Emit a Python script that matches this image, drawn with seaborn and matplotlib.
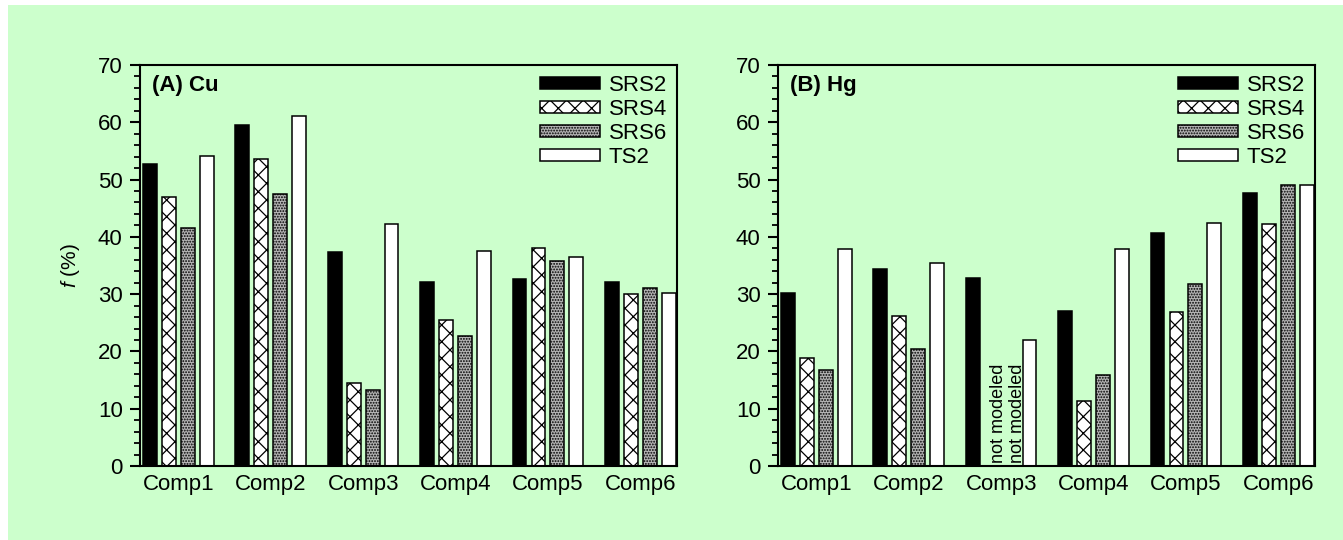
import numpy as np
import pandas as pd
import matplotlib
matplotlib.use("Agg")
import matplotlib.pyplot as plt
from matplotlib.patches import Patch, Rectangle
from matplotlib.ticker import MultipleLocator
import seaborn as sns

# ---- data ----
components = ["Comp1", "Comp2", "Comp3", "Comp4", "Comp5", "Comp6"]
series = ["SRS2", "SRS4", "SRS6", "TS2"]

cu_srs2 = [52.7, 59.5, 37.4, 32.2, 32.6, 32.2]
cu_srs4 = [46.9, 53.6, 14.5, 25.4, 38.0, 30.0]
cu_srs6 = [41.6, 47.4, 13.3, 22.7, 35.8, 31.1]
cu_ts2 = [54.2, 61.1, 42.3, 37.6, 36.4, 30.2]

hg_srs2 = [30.2, 34.4, 32.8, 27.0, 40.6, 47.7]
hg_srs4 = [18.8, 26.2, np.nan, 11.35, 26.9, 42.2]
hg_srs6 = [16.8, 20.4, np.nan, 15.9, 31.8, 49.0]
hg_ts2 = [37.9, 35.4, 22.0, 37.9, 42.5, 49.0]

panel_titles = ["(A) Cu", "(B) Hg"]
not_modeled_label = "not modeled"

def long_df(vals):
    rows = []
    for s, v in zip(series, vals):
        for c, y in zip(components, v):
            rows.append({"comp": c, "series": s, "f": y})
    return pd.DataFrame(rows)

df_cu = long_df([cu_srs2, cu_srs4, cu_srs6, cu_ts2])
df_hg = long_df([hg_srs2, hg_srs4, hg_srs6, hg_ts2])

# ---- style ----
sns.set_style("ticks")
plt.rcParams["font.family"] = ["Liberation Sans", "DejaVu Sans"]
plt.rcParams["mathtext.fontset"] = "custom"
plt.rcParams["mathtext.it"] = "Liberation Sans:italic"
plt.rcParams["mathtext.rm"] = "Liberation Sans"
plt.rcParams["hatch.linewidth"] = 0.9
for key in ["text.color", "axes.labelcolor", "xtick.color", "ytick.color",
            "xtick.labelcolor", "ytick.labelcolor", "axes.edgecolor"]:
    plt.rcParams[key] = "black"

BG = "#CCFFCC"
styles = {
    "SRS2": dict(facecolor="black", edgecolor="black", hatch=None),
    "SRS4": dict(facecolor="white", edgecolor="black", hatch="xx"),
    "SRS6": dict(facecolor="#b4b4b4", edgecolor="black", hatch="......"),
    "TS2": dict(facecolor="white", edgecolor="black", hatch=None),
}

fig = plt.figure(figsize=(13.43, 5.40), dpi=100, facecolor=BG)
ax_pos = [[140 / 1343, 74 / 540, 537 / 1343, 401 / 540],
          [778 / 1343, 74 / 540, 537 / 1343, 401 / 540]]

for i, (df, title) in enumerate(zip([df_cu, df_hg], panel_titles)):
    ax = fig.add_axes(ax_pos[i])
    ax.set_facecolor(BG)
    sns.barplot(data=df, x="comp", y="f", hue="series", order=components,
                hue_order=series, width=0.82, gap=0.27, ax=ax,
                errorbar=None, legend=False)
    for cont, s in zip(ax.containers, series):
        st = styles[s]
        for bar in cont:
            bar.set_facecolor(st["facecolor"])
            bar.set_edgecolor(st["edgecolor"])
            bar.set_linewidth(1.1)
            if st["hatch"]:
                bar.set_hatch(st["hatch"])
    ax.set_xlim(-0.415, 5.397)
    ax.set_ylim(0, 70)
    ax.yaxis.set_major_locator(MultipleLocator(10))
    ax.yaxis.set_minor_locator(MultipleLocator(2))
    ax.tick_params(axis="y", which="major", direction="out", length=7.5,
                   width=1.5, labelsize=16, pad=5, colors="black")
    ax.tick_params(axis="y", which="minor", direction="out", length=4,
                   width=1.3, colors="black")
    ax.tick_params(axis="x", length=0, labelsize=16, pad=6, colors="black")
    for sp in ax.spines.values():
        sp.set_visible(True)
        sp.set_linewidth(1.5)
        sp.set_color("black")
    ax.set_xlabel("")
    if i == 0:
        ax.set_ylabel(r"$f$ (%)", fontsize=15, color="black")
        ax.yaxis.set_label_coords(-0.108, 0.5)
    else:
        ax.set_ylabel("")
    ax.text(0.022, 0.975, title, transform=ax.transAxes, ha="left", va="top",
            fontsize=16, fontweight="bold", color="black")
    handles = [Patch(facecolor=styles[s]["facecolor"],
                     edgecolor=styles[s]["edgecolor"],
                     hatch=styles[s]["hatch"], linewidth=1.1) for s in series]
    leg = ax.legend(handles, series, loc="upper right", frameon=False,
                    fontsize=16, handlelength=2.7, handleheight=0.45,
                    handletextpad=0.4, labelspacing=0.14, borderaxespad=0.2,
                    borderpad=0.25)
    for t in leg.get_texts():
        t.set_color("black")

    if i == 1:
        # Comp3 has no SRS4 / SRS6 values -> annotate
        for k in (1, 2):
            xc = 2 + (k - 1.5) * 0.205
            ax.text(xc + 0.07, 0.6, not_modeled_label, rotation=90,
                    ha="center", va="bottom", fontsize=13, color="black")

# white strips along top and left edges of the page
fig.add_artist(Rectangle((0, 1 - 5 / 540), 1, 5 / 540, transform=fig.transFigure,
                         facecolor="white", edgecolor="none"))
fig.add_artist(Rectangle((0, 0), 8 / 1343, 1, transform=fig.transFigure,
                         facecolor="white", edgecolor="none"))

fig.savefig("out.png", dpi=100, facecolor=BG)
